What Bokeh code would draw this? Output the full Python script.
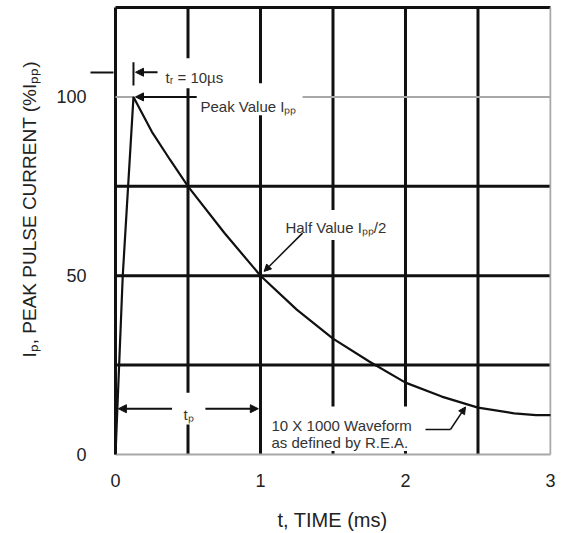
from bokeh.plotting import figure
from bokeh.models import Label, Arrow, NormalHead, Range1d, FixedTicker, Title
from bokeh.embed import file_html
from bokeh.resources import INLINE

# ---- data ----
time_ms = [0.0, 0.05, 0.124, 0.25, 0.375, 0.5, 0.75, 1.0, 1.25, 1.5, 1.75, 2.0, 2.25, 2.5, 2.75, 2.9, 3.0]
current_pct = [0.0, 50.0, 100.0, 90.3, 82.5, 75.0, 62.0, 50.0, 40.5, 32.4, 26.0, 20.1, 16.2, 13.1, 11.5, 11.0, 11.0]
x_ticks = [0, 1, 2, 3]
y_ticks = [0, 50, 100]

FONT = "Liberation Sans"
INK = "#111111"
TXT = "#333333"
GRAY = "#a8a8a8"

p = figure(width=562, height=533, output_backend="svg", toolbar_location=None,
           x_range=Range1d(-0.0138, 3.007), y_range=Range1d(-0.558, 125.56),
           min_border_left=113, min_border_right=11, min_border_top=5, min_border_bottom=76)
p.outline_line_color = None
p.grid.visible = False
p.background_fill_color = "white"
p.border_fill_color = "white"

for ax, ticks, so in ((p.xaxis[0], x_ticks, 17), (p.yaxis[0], y_ticks, 4)):
    ax.ticker = FixedTicker(ticks=ticks)
    ax.axis_line_color = None
    ax.major_tick_line_color = None
    ax.minor_tick_line_color = None
    ax.major_tick_out = 0
    ax.major_tick_in = 0
    ax.minor_tick_out = 0
    ax.minor_tick_in = 0
    ax.major_label_standoff = so
    ax.major_label_text_font = FONT
    ax.major_label_text_font_size = "18px"
    ax.major_label_text_color = "#222222"

# x-axis title
p.xaxis.axis_label = "t, TIME (ms)"
p.xaxis.axis_label_standoff = 19
p.xaxis.axis_label_text_font = FONT
p.xaxis.axis_label_text_font_size = "20px"
p.xaxis.axis_label_text_font_style = "normal"
p.xaxis.axis_label_text_color = "#222222"

# the small arrow pointing at the y axis (rise-time reference level), drawn as an outward tick
p.yaxis.ticker = FixedTicker(ticks=y_ticks, minor_ticks=[106.9])
p.yaxis.minor_tick_line_color = INK
p.yaxis.minor_tick_line_width = 2
p.yaxis.minor_tick_out = 23

# y-axis title, starting where the reference starts it
p.add_layout(Title(text="Iₚ, PEAK PULSE CURRENT (%Iₚₚ)", align="left", offset=99, standoff=28,
                   text_font=FONT, text_font_size="19px", text_font_style="normal",
                   text_color="#222222"), "left")

# ---- grid (thick black lines, broken where annotations sit) ----
vx0 = [0.0, 0.5, 0.5, 0.5, 1.0, 1.0, 1.5, 1.5, 1.5, 2.0, 2.0, 2.5]
vy0 = [0.0, 125, 102.4, 8.4, 125, 94.9, 125, 60.0, 1.0, 125, 1.0, 0.0]
vy1 = [125, 110.8, 17.3, 0.0, 103.8, 0.0, 68.4, 13.4, 0.0, 13.4, 0.0, 125]
p.segment(x0=vx0, y0=vy0, x1=vx0, y1=vy1, line_color=INK, line_width=3)
hy = [25, 50, 75, 125]
p.segment(x0=[0] * 4, y0=hy, x1=[3] * 4, y1=hy, line_color=INK, line_width=3)
# light lines: 100 % level, bottom and right edges
p.segment(x0=[0.0, 1.29, 0.0, 3.0], y0=[100, 100, 0, 0], x1=[0.13, 3.0, 3.0, 3.0], y1=[100, 100, 0, 125],
          line_color=GRAY, line_width=2)

# ---- waveform ----
p.line(time_ms, current_pct, line_color=INK, line_width=2.2)


def lab(x, y, text, size=15, align="left", color=TXT):
    p.add_layout(Label(x=x, y=y, text=text, text_font=FONT, text_font_size=f"{size}px",
                       text_color=color, text_align=align, text_baseline="alphabetic"))


def arrow(x0, y0, x1, y1, size=8, width=2):
    p.add_layout(Arrow(end=NormalHead(size=size, fill_color=INK, line_color=INK, line_width=1),
                       x_start=x0, y_start=y0, x_end=x1, y_end=y1, line_color=INK, line_width=width))


# rise time marker
p.segment(x0=[0.124], y0=[109.7], x1=[0.124], y1=[103.2], line_color=INK, line_width=2)
arrow(0.29, 106.9, 0.138, 106.9)
lab(0.345, 105.3, "tᵣ = 10µs")

# peak value
arrow(0.56, 100, 0.138, 100)
lab(0.586, 97.2, "Peak Value Iₚₚ")

# half value
arrow(1.29, 61.9, 1.025, 51.2, size=7, width=1.5)
lab(1.172, 63.6, "Half Value Iₚₚ/2")

# pulse duration
arrow(0.39, 12.8, 0.02, 12.8)
arrow(0.62, 12.8, 0.985, 12.8)
lab(0.469, 11.2, "tₚ")

# waveform note
lab(1.076, 8.1, "10 X 1000 Waveform")
lab(1.076, 3.35, "as defined by R.E.A.")
p.line([2.138, 2.31], [7.0, 7.0], line_color=INK, line_width=1.5)
arrow(2.31, 7.0, 2.414, 13.3, size=7, width=1.5)

open("out.html", "w").write(file_html(p, INLINE))
